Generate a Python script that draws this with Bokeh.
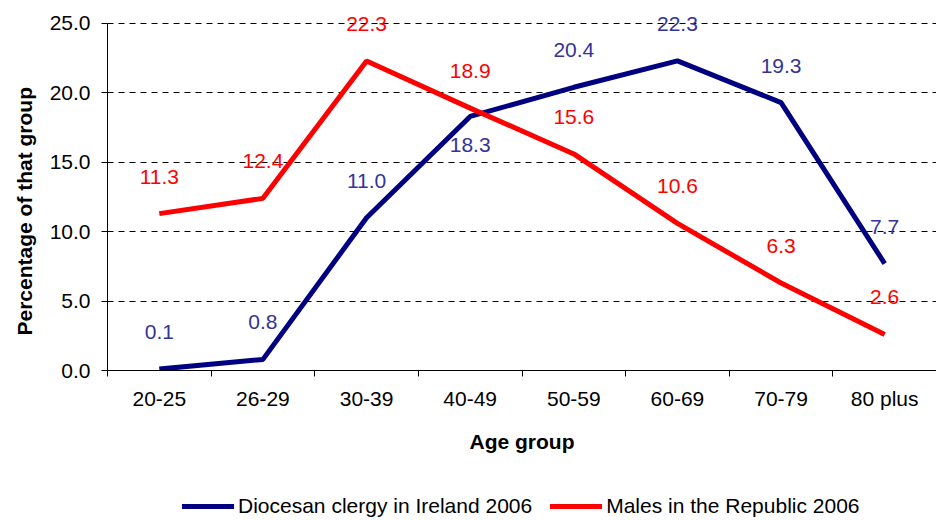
from bokeh.plotting import figure
from bokeh.models import (ColumnDataSource, Range1d, FixedTicker, Legend, LegendItem, Title)
from bokeh.layouts import column
from bokeh.core.properties import value
from bokeh.embed import file_html
from bokeh.resources import INLINE

categories = ["20-25", "26-29", "30-39", "40-49", "50-59", "60-69", "70-79", "80 plus"]
clergy = [0.1, 0.8, 11.0, 18.3, 20.4, 22.3, 19.3, 7.7]
males = [11.3, 12.4, 22.3, 18.9, 15.6, 10.6, 6.3, 2.6]
series_names = ["Diocesan clergy in Ireland 2006", "Males in the Republic 2006"]
y_ticks = [0, 5, 10, 15, 20, 25]

FONT = "Liberation Sans"
FS = "21px"
BLUE = "#000080"
BLUE_TXT = "#333399"
RED = "#FF0000"

xs = [i + 0.5 for i in range(len(categories))]
lab_c = ["%.1f" % v for v in clergy]
lab_m = ["%.1f" % v for v in males]
off_c = [29 if (i == 3) else -37 for i in range(len(clergy))]
off_m = [-37 for _ in males]

src_c = ColumnDataSource(dict(x=xs, y=clergy, t=lab_c, off=off_c))
src_m = ColumnDataSource(dict(x=xs, y=males, t=lab_m, off=off_m))

W = 936
# frame: 0 at y=370, 25 at y=23 (13.88 px/unit); top padding so labels at 25 are not clipped
p = figure(width=W, height=488, output_backend="svg", toolbar_location=None,
           x_range=Range1d(0, len(categories)), y_range=Range1d(0, 26.22))
p.min_border_left = 107
p.min_border_top = 6
p.min_border_right = 0
p.min_border_bottom = 118
p.outline_line_color = None
p.background_fill_color = "white"

p.line("x", "y", source=src_c, line_color=BLUE, line_width=5)
p.line("x", "y", source=src_m, line_color=RED, line_width=5)

p.text("x", "y", text="t", source=src_c, y_offset="off", text_align="center",
       text_baseline="middle", text_color=BLUE_TXT, text_font=value(FONT),
       text_font_size=FS)
p.text("x", "y", text="t", source=src_m, y_offset="off", text_align="center",
       text_baseline="middle", text_color=RED, text_font=value(FONT),
       text_font_size=FS)

# grid
p.xgrid.grid_line_color = None
p.ygrid.ticker = FixedTicker(ticks=y_ticks[1:])
p.ygrid.grid_line_color = "black"
p.ygrid.grid_line_dash = "6 5"
p.ygrid.grid_line_width = 1

# x axis
xa = p.xaxis[0]
xa.ticker = FixedTicker(ticks=xs, minor_ticks=list(range(len(categories) + 1)))
xa.major_label_overrides = {x: c for x, c in zip(xs, categories)}
xa.major_tick_line_color = None
xa.major_tick_out = 0
xa.major_tick_in = 0
xa.minor_tick_out = 6
xa.minor_tick_in = 0
xa.minor_tick_line_color = "black"
xa.axis_line_color = "black"
xa.major_label_text_font = FONT
xa.major_label_text_font_size = FS
xa.major_label_text_color = "black"
xa.major_label_standoff = 10
xa.axis_label = "Age group"
xa.axis_label_text_font = FONT
xa.axis_label_text_font_style = "bold"
xa.axis_label_text_font_size = FS
xa.axis_label_text_color = "black"
xa.axis_label_standoff = 17

# y axis
ya = p.yaxis[0]
ya.ticker = FixedTicker(ticks=y_ticks)
ya.bounds = (y_ticks[0], y_ticks[-1])
ya.major_label_overrides = {t: "%.1f" % t for t in y_ticks}
ya.minor_tick_line_color = None
ya.major_tick_out = 6
ya.major_tick_in = 0
ya.major_tick_line_color = "black"
ya.axis_line_color = "black"
ya.major_label_text_font = FONT
ya.major_label_text_font_size = FS
ya.major_label_text_color = "black"
ya.major_label_standoff = 11

# y axis title, placed along the 0-25 span
ytitle = Title(text="Percentage of that group", align="left", offset=35,
               text_font=FONT, text_font_style="bold", text_font_size=FS,
               text_color="black", standoff=21)
p.add_layout(ytitle, "left")

# legend in its own strip below the chart (frame aligned with the chart's frame)
q = figure(width=W, height=30, output_backend="svg", toolbar_location=None,
           x_range=Range1d(-10, -9), y_range=Range1d(-10, -9))
q.min_border = 0
q.axis.visible = False
q.grid.visible = False
q.outline_line_color = None
lc = q.line("x", "y", source=src_c, line_color=BLUE, line_width=5, line_cap="round")
lm = q.line("x", "y", source=src_m, line_color=RED, line_width=5, line_cap="round")
legend = Legend(items=[LegendItem(label=series_names[0], renderers=[lc]),
                       LegendItem(label=series_names[1], renderers=[lm])],
                orientation="horizontal", location=(75, 0))
legend.label_text_font = FONT
legend.label_text_font_size = FS
legend.label_text_color = "black"
legend.label_standoff = 4
legend.glyph_width = 52
legend.glyph_height = 20
legend.spacing = 18
legend.border_line_color = None
legend.background_fill_alpha = 0
legend.margin = 0
legend.padding = 0
q.add_layout(legend)

layout = column(p, q, spacing=0)
open("out.html", "w").write(file_html(layout, INLINE))
